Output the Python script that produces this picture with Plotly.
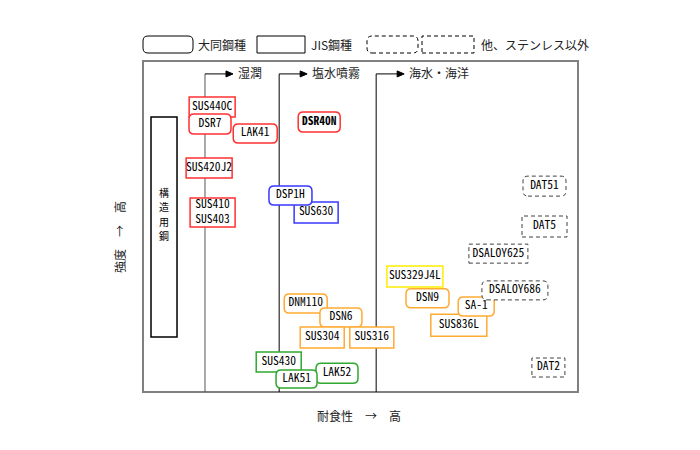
import plotly.graph_objects as go

# ---------------- data ----------------
labels = ["SUS440C", "DSR7", "LAK41", "DSR40N", "SUS420J2", "SUS410<br>SUS403",
          "SUS630", "DSP1H", "DNM110", "DSN6", "SUS304", "SUS316",
          "SUS430", "LAK52", "LAK51", "SUS329J4L", "DSN9", "SUS836L", "SA-1",
          "DAT51", "DAT5", "DSALOY625", "DSALOY686", "DAT2"]
# corrosion resistance (0-100, left -> right) and strength (0-100, bottom -> top)
corrosion = [15.9, 15.4, 25.8, 40.5, 15.2, 16.0,
             39.8, 33.9, 37.4, 45.5, 41.2, 52.6,
             31.2, 44.6, 35.3, 62.5, 65.4, 72.6, 76.6,
             92.3, 92.3, 81.7, 85.5, 93.2]
strength = [86.1, 81.0, 78.1, 81.6, 67.7, 54.2,
            54.2, 59.4, 26.7, 22.5, 16.5, 16.5,
            9.1, 5.7, 3.9, 34.9, 28.3, 20.2, 25.8,
            62.2, 50.0, 41.8, 30.7, 7.4]
maker = ["JIS", "大同", "大同", "大同", "JIS", "JIS",
         "JIS", "大同", "大同", "大同", "JIS", "JIS",
         "JIS", "大同", "大同", "JIS", "大同", "JIS", "大同",
         "大同", "JIS", "JIS", "大同", "JIS"]
family = ["マルテンサイト", "マルテンサイト", "マルテンサイト", "マルテンサイト", "マルテンサイト", "マルテンサイト",
          "析出硬化", "析出硬化", "オーステナイト", "オーステナイト", "オーステナイト", "オーステナイト",
          "フェライト", "フェライト", "フェライト", "二相", "オーステナイト", "オーステナイト", "オーステナイト",
          "その他", "その他", "その他", "その他", "その他"]
zones = ["湿潤", "塩水噴霧", "海水・海洋"]
zone_x = [14.25, 31.3, 53.6]
zone_top = 96.1
legend_items = ["大同鋼種", "JIS鋼種", "他、ステンレス以外"]
struct_chars = ["構", "造", "用", "鋼"]

# ---------------- style ----------------
box_w = [46, 42, 44, 42, 46, 45, 44, 43, 43, 42, 44, 44,
         45, 42, 41, 56, 43, 56, 36, 43, 45, 59, 66, 33]
box_h = [20, 20, 19, 20, 20, 29, 21, 19, 19, 19, 21, 21,
         20, 20, 18, 21, 19, 22, 19, 20, 21, 19, 19, 19]
fam_color = {"マルテンサイト": "#ff3030", "析出硬化": "#3838ff", "オーステナイト": "#ffaa33",
             "フェライト": "#30a830", "二相": "#ffee00", "その他": "#404040"}
LAT = "Noto Sans Mono CJK JP, Noto Sans CJK JP, sans-serif"
CJK = "Noto Sans CJK JP, sans-serif"
DASH = "4px,3px"


def rrect(w, h, r=5, cx=0.0, cy=0.0):
    x0, x1, y0, y1 = cx - w / 2, cx + w / 2, cy - h / 2, cy + h / 2
    return (f"M {x0+r},{y0} L {x1-r},{y0} Q {x1},{y0} {x1},{y0+r} "
            f"L {x1},{y1-r} Q {x1},{y1} {x1-r},{y1} L {x0+r},{y1} "
            f"Q {x0},{y1} {x0},{y1-r} L {x0},{y0+r} Q {x0},{y0} {x0+r},{y0} Z")


shapes = []
annotations = []

# frame
shapes.append(dict(type="rect", xref="paper", yref="paper", x0=0, x1=1, y0=0, y1=1,
                   line=dict(color="#808080", width=2), layer="below"))

# structural steel box
shapes.append(dict(type="rect", xref="x", yref="y", x0=1.84, x1=7.82, y0=16.6, y1=83.1,
                   line=dict(color="black", width=1.5), fillcolor="white", layer="below"))
for k, ch in enumerate(struct_chars):
    annotations.append(dict(x=4.83, y=53.8, xref="x", yref="y", text=ch, xanchor="center",
                            yanchor="middle", yshift=21.75 - 14.5 * k, showarrow=False,
                            borderpad=0, font=dict(family=CJK, size=10, color="black")))

# zone lines with arrows
for i, (zn, zx) in enumerate(zip(zones, zone_x)):
    col = "#555555" if i == 0 else "black"
    shapes.append(dict(type="line", xref="x", yref="y", x0=zx, x1=zx, y0=-0.5, y1=zone_top,
                       line=dict(color=col, width=1), layer="below"))
    shapes.append(dict(type="line", xref="x", yref="y", xsizemode="pixel", xanchor=zx,
                       x0=0, x1=23, y0=zone_top, y1=zone_top,
                       line=dict(color="black", width=1), layer="below"))
    shapes.append(dict(type="path", xref="x", yref="y", xsizemode="pixel", ysizemode="pixel",
                       xanchor=zx, yanchor=zone_top, path="M 21,3 L 28,0 L 21,-3 Z",
                       fillcolor="black", line=dict(color="black", width=1), layer="below"))
    annotations.append(dict(x=zx, y=zone_top, xref="x", yref="y", text=zn, xanchor="left",
                            yanchor="middle", xshift=31, yshift=1, showarrow=False,
                            font=dict(family=CJK, size=12, color="#222222")))

# steel boxes
for i in range(len(labels)):
    col = fam_color[family[i]]
    other = family[i] == "その他"
    line = dict(color=col, width=1 if other else 1.5, dash=DASH if other else "solid")
    w, h = box_w[i], box_h[i]
    common = dict(xref="x", yref="y", xsizemode="pixel", ysizemode="pixel",
                  xanchor=corrosion[i], yanchor=strength[i], fillcolor="white",
                  line=line, layer="below")
    if maker[i] == "大同":
        shapes.append(dict(type="path", path=rrect(w, h), **common))
    else:
        shapes.append(dict(type="rect", x0=-w / 2, x1=w / 2, y0=-h / 2, y1=h / 2, **common))

text_disp = [("<b>" + t + "</b>") if t == "DSR40N" else t for t in labels]

# legend (anchored at frame top-left, offsets in px; y positive is up)
lg = dict(xref="paper", yref="paper", xsizemode="pixel", ysizemode="pixel", xanchor=0, yanchor=1,
          fillcolor="white", layer="below")
shapes.append(dict(type="path", path=rrect(50, 17, 5, 25, 16.5), line=dict(color="black", width=1), **lg))
shapes.append(dict(type="rect", x0=114, x1=162, y0=8, y1=25, line=dict(color="black", width=1), **lg))
shapes.append(dict(type="path", path=rrect(51, 17, 5, 249.5, 16.5),
                   line=dict(color="black", width=1, dash=DASH), **lg))
shapes.append(dict(type="rect", x0=279, x1=331, y0=8, y1=25,
                   line=dict(color="black", width=1, dash=DASH), **lg))
for txt, sh in zip(legend_items, [53, 166, 336]):
    annotations.append(dict(x=0, y=1, xref="paper", yref="paper", text=txt, xanchor="left",
                            yanchor="middle", xshift=sh, yshift=16.5, showarrow=False,
                            font=dict(family=CJK, size=12, color="#222222")))

# axis titles
annotations.append(dict(x=0.4966, y=-0.0695, xref="paper", yref="paper", text="耐食性　→　高",
                        xanchor="center", yanchor="middle",
                        showarrow=False, font=dict(family=CJK, size=12, color="#222222")))
annotations.append(dict(x=-0.0552, y=0.468, xref="paper", yref="paper", text="強度　→　高",
                        xanchor="center", yanchor="middle",
                        textangle=-90, showarrow=False, font=dict(family=CJK, size=12, color="#222222")))

fig = go.Figure(go.Scatter(x=corrosion, y=strength, mode="text", text=text_disp,
                           textposition="middle center", cliponaxis=False, hoverinfo="skip",
                           textfont=dict(family=LAT, size=11.5, color="black")))
# page body adds an 8px offset, so margins are reduced by 8px on left/top
fig.update_layout(width=700, height=450, margin=dict(l=135, r=130, t=53, b=66, autoexpand=False),
                  paper_bgcolor="white", plot_bgcolor="white", showlegend=False,
                  xaxis=dict(range=[0, 100], visible=False, fixedrange=True),
                  yaxis=dict(range=[0, 100], visible=False, fixedrange=True),
                  shapes=shapes, annotations=annotations)
fig.write_html("out.html")
